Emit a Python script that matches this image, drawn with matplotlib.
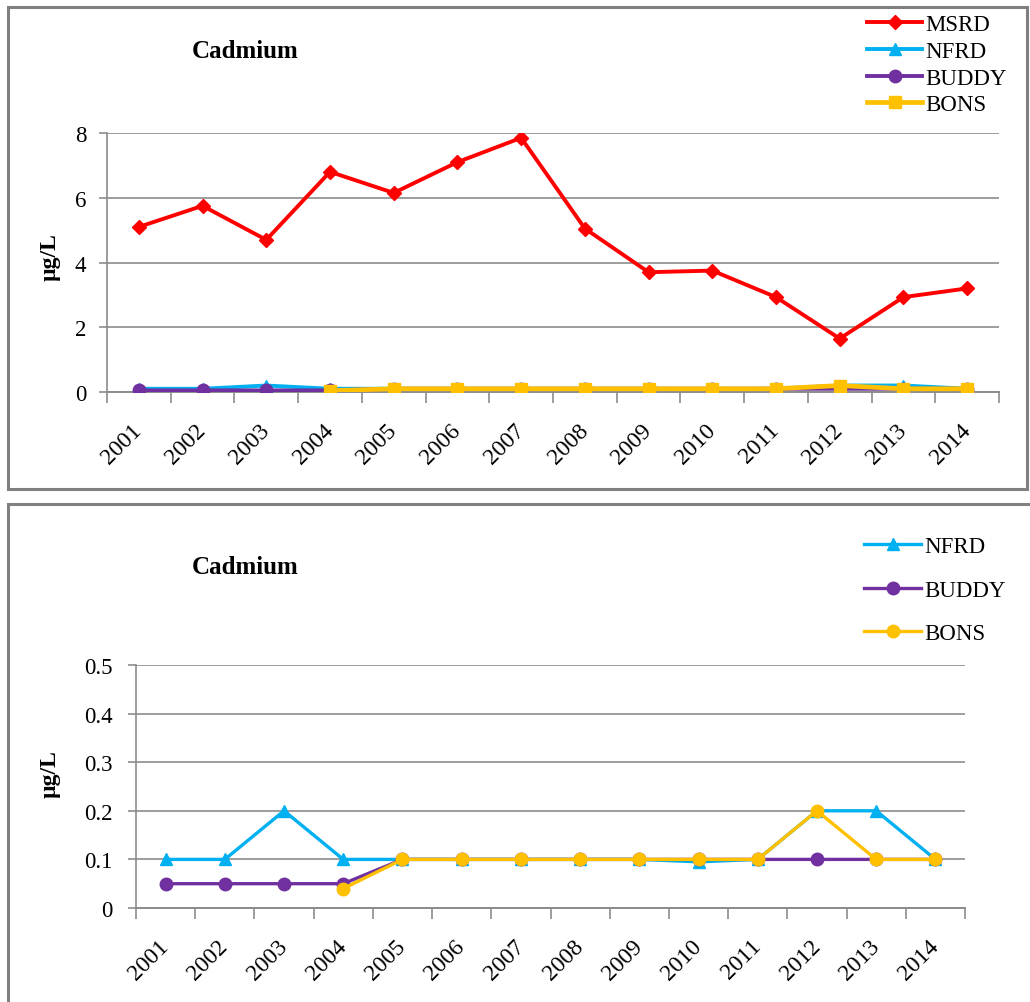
import numpy as np
import matplotlib
matplotlib.use("Agg")
import matplotlib.pyplot as plt
from matplotlib.patches import Rectangle
from matplotlib.transforms import ScaledTranslation

years = ["2001", "2002", "2003", "2004", "2005", "2006", "2007",
         "2008", "2009", "2010", "2011", "2012", "2013", "2014"]
msrd = [5.1, 5.75, 4.7, 6.8, 6.15, 7.1, 7.85, 5.05, 3.7, 3.75, 2.93, 1.65, 2.93, 3.2]
nfrd = [0.1, 0.1, 0.2, 0.1, 0.1, 0.1, 0.1, 0.1, 0.1, 0.095, 0.1, 0.2, 0.2, 0.1]
buddy = [0.05, 0.05, 0.05, 0.05, 0.1, 0.1, 0.1, 0.1, 0.1, 0.1, 0.1, 0.1, 0.1, 0.1]
bons = [np.nan, np.nan, np.nan, 0.04, 0.1, 0.1, 0.1, 0.1, 0.1, 0.1, 0.1, 0.2, 0.1, 0.1]

top_yticks = [0, 2, 4, 6, 8]
bot_yticks = [0, 0.1, 0.2, 0.3, 0.4, 0.5]
bot_yticklabels = ["0", "0.1", "0.2", "0.3", "0.4", "0.5"]

RED = "#FF0000"
BLUE = "#00B0F0"
PURPLE = "#7030A0"
GOLD = "#FFC000"
GRID = "#8C8C8C"

plt.rcParams["font.family"] = ["Liberation Serif", "DejaVu Serif"]

W, H = 1030, 1003
fig = plt.figure(figsize=(W / 100, H / 100), dpi=100)

# panel borders
for (x0, y0, x1, y1) in [(8, 8, 1027, 490), (8, 505, 1045, 1015)]:
    fig.patches.append(Rectangle((x0 / W, 1 - y1 / H), (x1 - x0) / W, (y1 - y0) / H,
                                 transform=fig.transFigure, fill=False,
                                 edgecolor="#808080", linewidth=2.2))

x = np.arange(len(years))


def style_axes(ax, ymax, yticks, ylabels, ypad):
    ax.set_xlim(-0.5, len(years) - 0.5)
    ax.set_ylim(0, ymax)
    ax.set_yticks(yticks)
    ax.set_yticklabels(ylabels, fontsize=16.5)
    ax.set_xticks(x)
    ax.set_xticklabels(years, rotation=45, fontsize=17, ha="right", va="center",
                       rotation_mode="anchor")
    shift = ScaledTranslation(6 / 100, 0, fig.dpi_scale_trans)
    for lab in ax.get_xticklabels():
        lab.set_transform(lab.get_transform() + shift)
    ax.set_xticks(np.arange(-0.5, len(years)), minor=True)
    ax.tick_params(axis="x", which="major", length=0, pad=25)
    ax.tick_params(axis="x", which="minor", length=8, color=GRID, width=1.2)
    ax.tick_params(axis="y", length=6, color=GRID, width=1.2, pad=ypad)
    ax.grid(axis="y", color=GRID, linewidth=1.2)
    ax.set_axisbelow(True)
    for s in ["top", "right"]:
        ax.spines[s].set_visible(False)
    ax.spines["left"].set_color(GRID)
    ax.spines["bottom"].set_color(GRID)
    ax.spines["left"].set_linewidth(1.2)
    ax.spines["bottom"].set_linewidth(1.4)


# Top chart
ax1 = fig.add_axes([107 / W, 1 - 393 / H, 892 / W, 259 / H])
style_axes(ax1, 8, top_yticks, [str(t) for t in top_yticks], 9)
ax1.plot(x, msrd, color=RED, marker="D", markersize=7, linewidth=2.8, label="MSRD", zorder=5)
ax1.plot(x, nfrd, color=BLUE, marker="^", markersize=8, linewidth=2.8, label="NFRD", zorder=3)
ax1.plot(x, buddy, color=PURPLE, marker="o", markersize=9, linewidth=2.8, label="BUDDY", zorder=4)
ax1.plot(x, bons, color=GOLD, marker="s", markersize=8, linewidth=3.4, label="BONS", zorder=6)
fig.text(192 / W, 1 - 52 / H, "Cadmium", fontsize=18, fontweight="bold", va="center")
fig.text(50 / W, 1 - 257 / H, "µg/L", fontsize=17, fontweight="bold", rotation=90,
         ha="center", va="center")
ax1.legend(loc="upper left", bbox_to_anchor=(867 / W, 1 - 15 / H),
           bbox_transform=fig.transFigure, frameon=False, fontsize=16.5,
           handlelength=2.4, handletextpad=0.15, labelspacing=0.25,
           borderaxespad=0, borderpad=0)

# Bottom chart
ax2 = fig.add_axes([136 / W, 1 - 909 / H, 829 / W, 243 / H])
style_axes(ax2, 0.5, bot_yticks, bot_yticklabels, 11)
ax2.plot(x, nfrd, color=BLUE, marker="^", markersize=9, linewidth=2.4, label="NFRD", zorder=3)
ax2.plot(x, buddy, color=PURPLE, marker="o", markersize=9, linewidth=2.4, label="BUDDY", zorder=4)
ax2.plot(x, bons, color=GOLD, marker="o", markersize=9, linewidth=2.4, label="BONS", zorder=5)
fig.text(192 / W, 1 - 568 / H, "Cadmium", fontsize=18, fontweight="bold", va="center")
fig.text(50 / W, 1 - 774 / H, "µg/L", fontsize=17, fontweight="bold", rotation=90,
         ha="center", va="center")
ax2.legend(loc="upper left", bbox_to_anchor=(864 / W, 1 - 537 / H),
           bbox_transform=fig.transFigure, frameon=False, fontsize=16.5,
           handlelength=2.5, handletextpad=0.15, labelspacing=0.98,
           borderaxespad=0, borderpad=0)

fig.savefig("out.png", dpi=100)
